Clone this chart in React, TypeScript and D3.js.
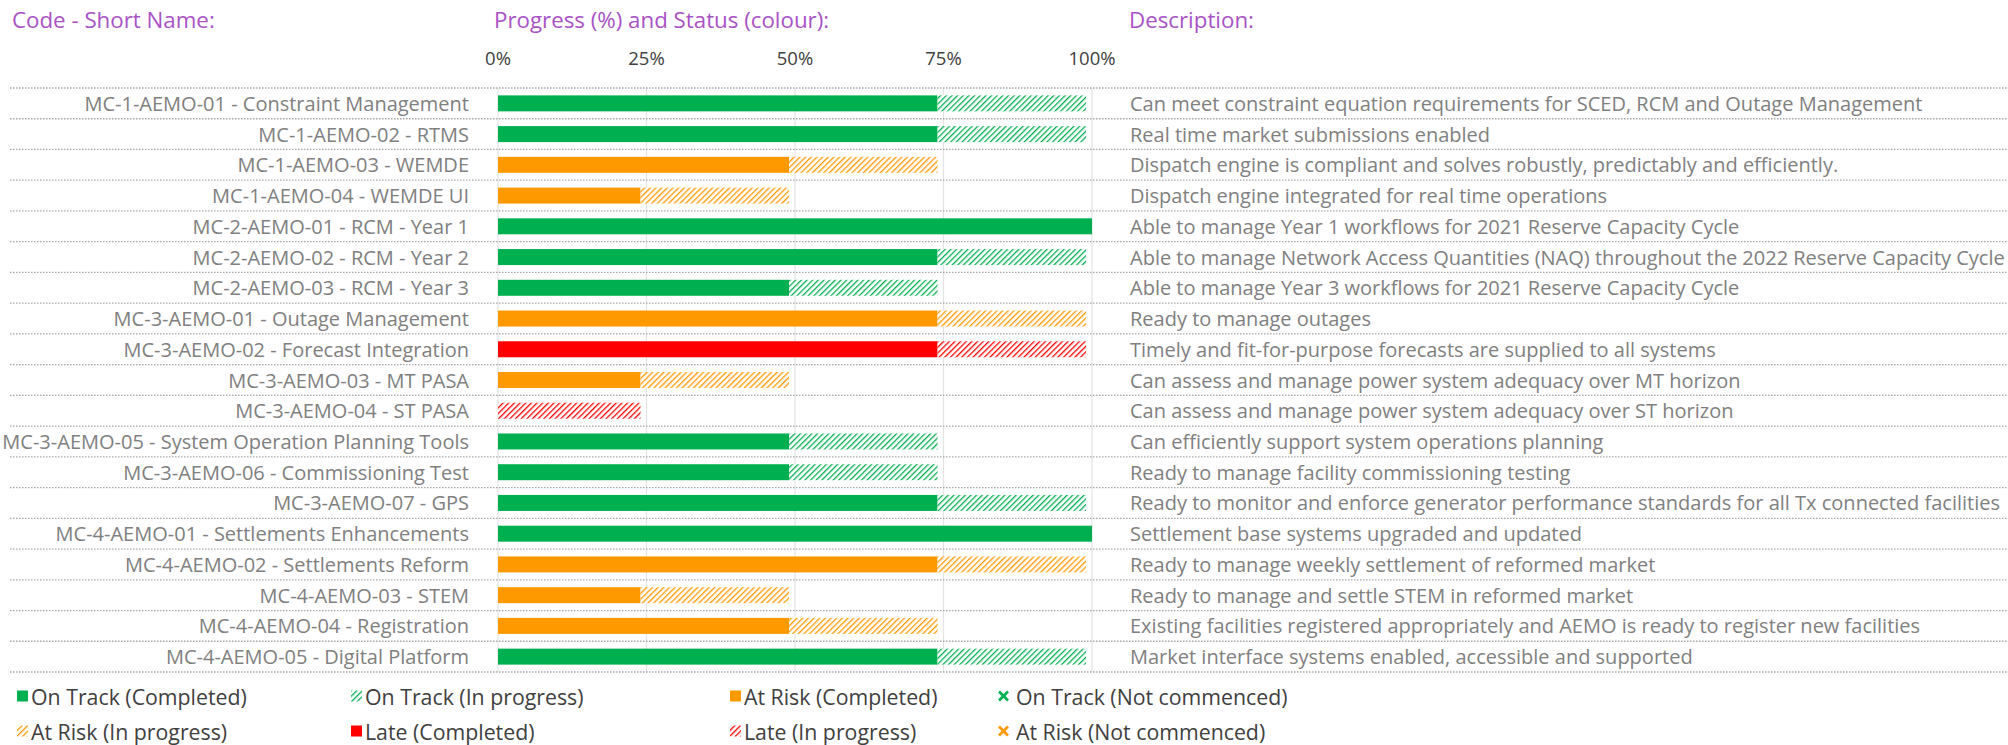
import React from "react";
import * as d3 from "d3";

const codes = [
  "MC-1-AEMO-01 - Constraint Management",
  "MC-1-AEMO-02 - RTMS",
  "MC-1-AEMO-03 - WEMDE",
  "MC-1-AEMO-04 - WEMDE UI",
  "MC-2-AEMO-01 - RCM - Year 1",
  "MC-2-AEMO-02 - RCM - Year 2",
  "MC-2-AEMO-03 - RCM - Year 3",
  "MC-3-AEMO-01 - Outage Management",
  "MC-3-AEMO-02 - Forecast Integration",
  "MC-3-AEMO-03 - MT PASA",
  "MC-3-AEMO-04 - ST PASA",
  "MC-3-AEMO-05 - System Operation Planning Tools",
  "MC-3-AEMO-06 - Commissioning Test",
  "MC-3-AEMO-07 - GPS",
  "MC-4-AEMO-01 - Settlements Enhancements",
  "MC-4-AEMO-02 - Settlements Reform",
  "MC-4-AEMO-03 - STEM",
  "MC-4-AEMO-04 - Registration",
  "MC-4-AEMO-05 - Digital Platform",
];

const descriptions = [
  "Can meet constraint equation requirements for SCED, RCM and Outage Management",
  "Real time market submissions enabled",
  "Dispatch engine is compliant and solves robustly, predictably and efficiently.",
  "Dispatch engine integrated for real time operations",
  "Able to manage Year 1 workflows for 2021 Reserve Capacity Cycle",
  "Able to manage Network Access Quantities (NAQ) throughout the 2022 Reserve Capacity Cycle",
  "Able to manage Year 3 workflows for 2021 Reserve Capacity Cycle",
  "Ready to manage outages",
  "Timely and fit-for-purpose forecasts are supplied to all systems",
  "Can assess and manage power system adequacy over MT horizon",
  "Can assess and manage power system adequacy over ST horizon",
  "Can efficiently support system operations planning",
  "Ready to manage facility commissioning testing",
  "Ready to monitor and enforce generator performance standards for all Tx connected facilities",
  "Settlement base systems upgraded and updated",
  "Ready to manage weekly settlement of reformed market",
  "Ready to manage and settle STEM in reformed market",
  "Existing facilities registered appropriately and AEMO is ready to register new facilities",
  "Market interface systems enabled, accessible and supported",
];

// status: "on" = On Track, "risk" = At Risk, "late" = Late
const statuses = [
  "on", "on", "risk", "risk", "on", "on", "on", "risk", "late", "risk",
  "late", "on", "on", "on", "on", "risk", "risk", "risk", "on",
];

// completed progress (%) – solid part
const completed = [74, 74, 49, 24, 100, 74, 49, 74, 74, 24, 0, 49, 49, 74, 100, 74, 24, 49, 74];
// in-progress end (%) – hatched part ends here
const inProgressEnd = [99, 99, 74, 49, 100, 99, 74, 99, 99, 49, 24, 74, 74, 99, 100, 99, 49, 74, 99];

const ticks = [0, 25, 50, 75, 100];

const legendItems = [
  { label: "On Track (Completed)", status: "on", kind: "solid" },
  { label: "On Track (In progress)", status: "on", kind: "hatch" },
  { label: "At Risk (Completed)", status: "risk", kind: "solid" },
  { label: "On Track (Not commenced)", status: "on", kind: "cross" },
  { label: "At Risk (In progress)", status: "risk", kind: "hatch" },
  { label: "Late (Completed)", status: "late", kind: "solid" },
  { label: "Late (In progress)", status: "late", kind: "hatch" },
  { label: "At Risk (Not commenced)", status: "risk", kind: "cross" },
];

const colors: Record<string, string> = {
  on: "#00b050",
  risk: "#ff9900",
  late: "#ff0000",
};

const W = 2008;
const H = 745;
const FONT = "'Open Sans', 'Noto Sans', sans-serif";
const TITLE_COLOR = "#a952c6";
const TEXT_COLOR = "#808080";
const DARK = "#404040";

export default function App() {
  const x = d3.scaleLinear().domain([0, 100]).range([498, 1092]);
  const y = d3.scaleBand<number>().domain(d3.range(codes.length)).range([88, 672]).paddingInner(0);
  const barH = 16;
  const labelRight = 469;
  const descLeft = 1130;

  const legendCols = [17, 351, 730, 998];
  const legendRows = [696, 731];

  const rowLines = d3.range(codes.length + 1).map((i) =>
    i < codes.length ? (y(i) as number) : (y(codes.length - 1) as number) + y.bandwidth()
  );

  return (
    <svg
      width={W}
      height={H}
      style={{ position: "absolute", left: 0, top: 0, background: "#fff" }}
      fontFamily={FONT}
    >
      <defs>
        {Object.keys(colors).map((k) => (
          <pattern
            key={k}
            id={`hatch-${k}`}
            patternUnits="userSpaceOnUse"
            width={4}
            height={4}
            patternTransform="rotate(45)"
          >
            <rect width={4} height={4} fill="#fff" />
            <line x1={0} y1={0} x2={0} y2={4} stroke={colors[k]} strokeWidth={2.6} />
          </pattern>
        ))}
      </defs>

      {/* headers */}
      <text x={12} y={19} fontSize={22.3} fill={TITLE_COLOR} dominantBaseline="central">
        Code - Short Name:
      </text>
      <text x={494} y={19} fontSize={22.3} fill={TITLE_COLOR} dominantBaseline="central">
        Progress (%) and Status (colour):
      </text>
      <text x={1129} y={19} fontSize={22.3} fill={TITLE_COLOR} dominantBaseline="central">
        Description:
      </text>

      {/* tick labels */}
      {ticks.map((t) => (
        <text
          key={t}
          x={x(t)}
          y={57}
          fontSize={18.5}
          fill={DARK}
          textAnchor="middle"
          dominantBaseline="central"
        >
          {t}%
        </text>
      ))}

      {/* vertical gridlines */}
      {ticks.map((t) => (
        <line
          key={`g${t}`}
          x1={x(t)}
          x2={x(t)}
          y1={rowLines[0]}
          y2={rowLines[rowLines.length - 1]}
          stroke="#e3e3e3"
          strokeWidth={1.2}
        />
      ))}

      {/* dotted row separators */}
      {rowLines.map((ly, i) => (
        <line
          key={`r${i}`}
          x1={10}
          x2={W}
          y1={ly}
          y2={ly}
          stroke="#a6a6a6"
          strokeWidth={1.3}
          strokeDasharray="1.5,1.5"
        />
      ))}

      {/* rows */}
      {codes.map((c, i) => {
        const cy = (y(i) as number) + y.bandwidth() / 2;
        const st = statuses[i];
        return (
          <g key={c}>
            <text
              x={labelRight}
              y={cy}
              fontSize={20}
              fill={TEXT_COLOR}
              textAnchor="end"
              dominantBaseline="central"
            >
              {c}
            </text>
            {completed[i] > 0 && (
              <rect
                x={x(0)}
                y={cy - barH / 2}
                width={x(completed[i]) - x(0)}
                height={barH}
                fill={colors[st]}
              />
            )}
            {inProgressEnd[i] > completed[i] && (
              <rect
                x={x(completed[i])}
                y={cy - barH / 2}
                width={x(inProgressEnd[i]) - x(completed[i])}
                height={barH}
                fill={`url(#hatch-${st})`}
              />
            )}
            <text
              x={descLeft}
              y={cy}
              fontSize={20}
              fill={TEXT_COLOR}
              dominantBaseline="central"
            >
              {descriptions[i]}
            </text>
          </g>
        );
      })}

      {/* legend */}
      {legendItems.map((it, i) => {
        const lx = legendCols[i % 4];
        const ly = legendRows[Math.floor(i / 4)];
        const col = colors[it.status];
        return (
          <g key={it.label}>
            {it.kind === "solid" && (
              <rect x={lx} y={ly - 5.5} width={11} height={11} fill={col} />
            )}
            {it.kind === "hatch" && (
              <rect x={lx} y={ly - 5.5} width={11} height={11} fill={`url(#hatch-${it.status})`} />
            )}
            {it.kind === "cross" && (
              <g stroke={col} strokeWidth={2.6}>
                <line x1={lx + 1} y1={ly - 4.5} x2={lx + 10} y2={ly + 4.5} />
                <line x1={lx + 10} y1={ly - 4.5} x2={lx + 1} y2={ly + 4.5} />
              </g>
            )}
            <text
              x={lx + (it.kind === "cross" ? 18 : 14)}
              y={ly}
              fontSize={21.3}
              fill={DARK}
              dominantBaseline="central"
            >
              {it.label}
            </text>
          </g>
        );
      })}
    </svg>
  );
}
